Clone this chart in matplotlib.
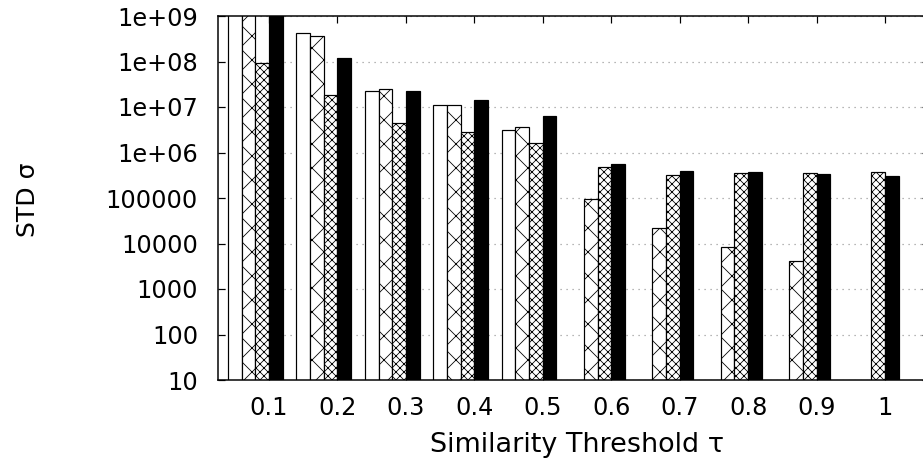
import numpy as np
import matplotlib
matplotlib.use("Agg")
import matplotlib.pyplot as plt

# ---- data ----
thresholds = ["0.1", "0.2", "0.3", "0.4", "0.5", "0.6", "0.7", "0.8", "0.9", "1"]
series_white = [1.3e9, 4.2e8, 2.2e7, 1.1e7, 3.1e6, np.nan, np.nan, np.nan, np.nan, np.nan]
series_sparse = [1.3e9, 3.6e8, 2.5e7, 1.1e7, 3.6e6, 9.6e4, 2.2e4, 8.3e3, 4.2e3, np.nan]
series_dense = [9.3e7, 1.8e7, 4.5e6, 2.8e6, 1.6e6, 4.8e5, 3.2e5, 3.5e5, 3.6e5, 3.7e5]
series_black = [1.3e9, 1.2e8, 2.2e7, 1.4e7, 6.3e6, 5.6e5, 3.9e5, 3.7e5, 3.3e5, 3.0e5]
ytick_values = [10, 100, 1000, 1e4, 1e5, 1e6, 1e7, 1e8, 1e9]
ytick_labels = ["10", "100", "1000", "10000", "100000", "1e+06", "1e+07", "1e+08", "1e+09"]

DPI = 72
W, H = 923, 459
plt.rcParams['font.family'] = ['DejaVu Sans']
plt.rcParams['hatch.linewidth'] = 0.8

fig = plt.figure(figsize=(W / DPI, H / DPI), dpi=DPI)
ax = fig.add_axes([218 / W, (H - 380) / H, (929 - 218) / W, (380 - 16) / H])

x = np.arange(len(thresholds))
w = 0.2
styles = [
    (series_white, -2.5, dict(facecolor="white", hatch=None)),
    (series_sparse, -1.5, dict(facecolor="white", hatch="x")),
    (series_dense, -0.5, dict(facecolor="white", hatch="xxx")),
    (series_black, 0.5, dict(facecolor="black", hatch=None)),
]
for vals, off, st in styles:
    v = np.array(vals, dtype=float)
    m = ~np.isnan(v)
    ax.bar(x[m] + off * w, v[m] - 1, bottom=1, width=w, edgecolor="black",
           linewidth=1.2, zorder=3, **st)

ax.set_yscale("log")
ax.set_ylim(10, 1e9)
ax.set_xlim(-0.745, 9.643)
ax.set_yticks(ytick_values)
ax.set_yticklabels(ytick_labels)
ax.yaxis.set_minor_locator(matplotlib.ticker.NullLocator())
ax.set_xticks(x)
ax.set_xticklabels(thresholds)

ax.tick_params(axis="both", which="major", direction="in", length=7, width=1.2,
               labelsize=24, colors="black", top=True, right=True)
ax.tick_params(axis="y", pad=20)
ax.tick_params(axis="x", pad=16)

ax.set_axisbelow(True)
ax.yaxis.grid(True, linestyle=(0, (1, 4)), color="#999999", linewidth=1.2)
for s in ax.spines.values():
    s.set_linewidth(1.5)
    s.set_zorder(4)

fig.text(577 / W, 1 - 445 / H, "Similarity Threshold τ", ha="center", va="center", fontsize=27)
fig.text(28 / W, 1 - 200 / H, "STD σ", ha="center", va="center", rotation=90, fontsize=25)

fig.savefig("out.png", dpi=DPI)
